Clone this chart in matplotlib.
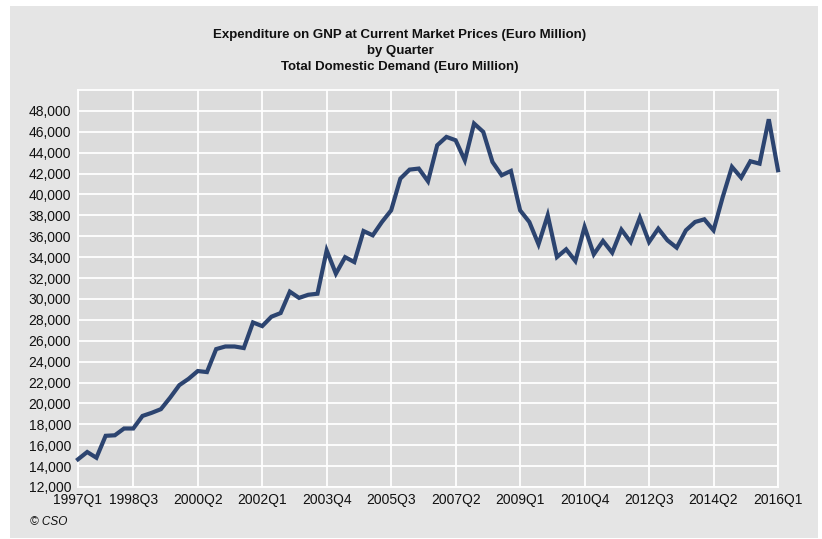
import matplotlib
matplotlib.use("Agg")
import matplotlib.pyplot as plt
from matplotlib.patches import Rectangle
from matplotlib.ticker import FuncFormatter

plt.rcParams["font.family"] = ["Liberation Sans", "DejaVu Sans"]

# quarters 1997Q1 .. 2016Q1
quarters = [f"{y}Q{q}" for y in range(1997, 2017) for q in range(1, 5)][:77]

# Total Domestic Demand (Euro Million)
demand = [
    14650, 15350, 14800, 16900, 16950, 17600, 17600, 18800, 19100, 19450,
    20550, 21750, 22350, 23100, 23000, 25200, 25450, 25450, 25300, 27750,
    27400, 28300, 28650, 30700, 30100, 30400, 30500, 34650, 32420, 34000,
    33530, 36500, 36090, 37370, 38480, 41520, 42380, 42480, 41260, 44710,
    45510, 45190, 43270, 46790, 45990, 43110, 41840, 42250, 38480, 37370,
    35230, 38010, 34010, 34750, 33630, 36890, 34270, 35550, 34430, 36630,
    35450, 37780, 35450, 36730, 35610, 34910, 36570, 37370, 37620, 36570,
    39760, 42640, 41610, 43180, 42950, 47200, 42320,
]

tick_labels = ["1997Q1", "1998Q3", "2000Q2", "2002Q1", "2003Q4", "2005Q3",
               "2007Q2", "2009Q1", "2010Q4", "2012Q3", "2014Q2", "2016Q1"]
y_ticks = list(range(12000, 48001, 2000))

W, H = 822, 539
fig = plt.figure(figsize=(W / 100, H / 100), dpi=100, facecolor="white")

# grey panel behind everything
fig.patches.append(Rectangle((10 / W, 1 - 538 / H), 808 / W, 532 / H,
                             transform=fig.transFigure, facecolor="#e5e5e5",
                             edgecolor="none", zorder=-10))

ax = fig.add_axes([78 / W, 1 - 487 / H, 700 / W, 397 / H])
ax.set_facecolor("#dcdcdc")

x = list(range(len(demand)))
ax.plot(x, demand, color="#2c4470", linewidth=3.0, solid_joinstyle="miter",
        zorder=3, clip_on=False)

tick_pos = [quarters.index(t) for t in tick_labels]
ax.set_xticks(tick_pos)
ax.set_xticklabels(tick_labels)
ax.set_xlim(0, 76)

ax.set_yticks(y_ticks)
ax.set_ylim(12000, 50000)
ax.yaxis.set_major_formatter(FuncFormatter(lambda v, p: f"{int(v):,}"))

ax.grid(True, color="white", linewidth=1.3)
ax.set_axisbelow(True)
for s in ax.spines.values():
    s.set_color("white")
    s.set_linewidth(1.3)
ax.tick_params(length=0, labelsize=10, colors="#111111")
ax.tick_params(axis="y", pad=5)
ax.tick_params(axis="x", pad=4.5)

title = ("Expenditure on GNP at Current Market Prices (Euro Million)\n"
         "by Quarter\nTotal Domestic Demand (Euro Million)")
fig.text(400 / W, 1 - 51 / H, title, ha="center", va="center",
         fontsize=9.5, fontweight="bold", linespacing=1.45, color="#111111")

fig.text(30 / W, 1 - 522 / H, "© CSO", fontsize=8.5, style="italic",
         ha="left", va="center", color="#111111")

plt.savefig("out.png", dpi=100, facecolor="white")
